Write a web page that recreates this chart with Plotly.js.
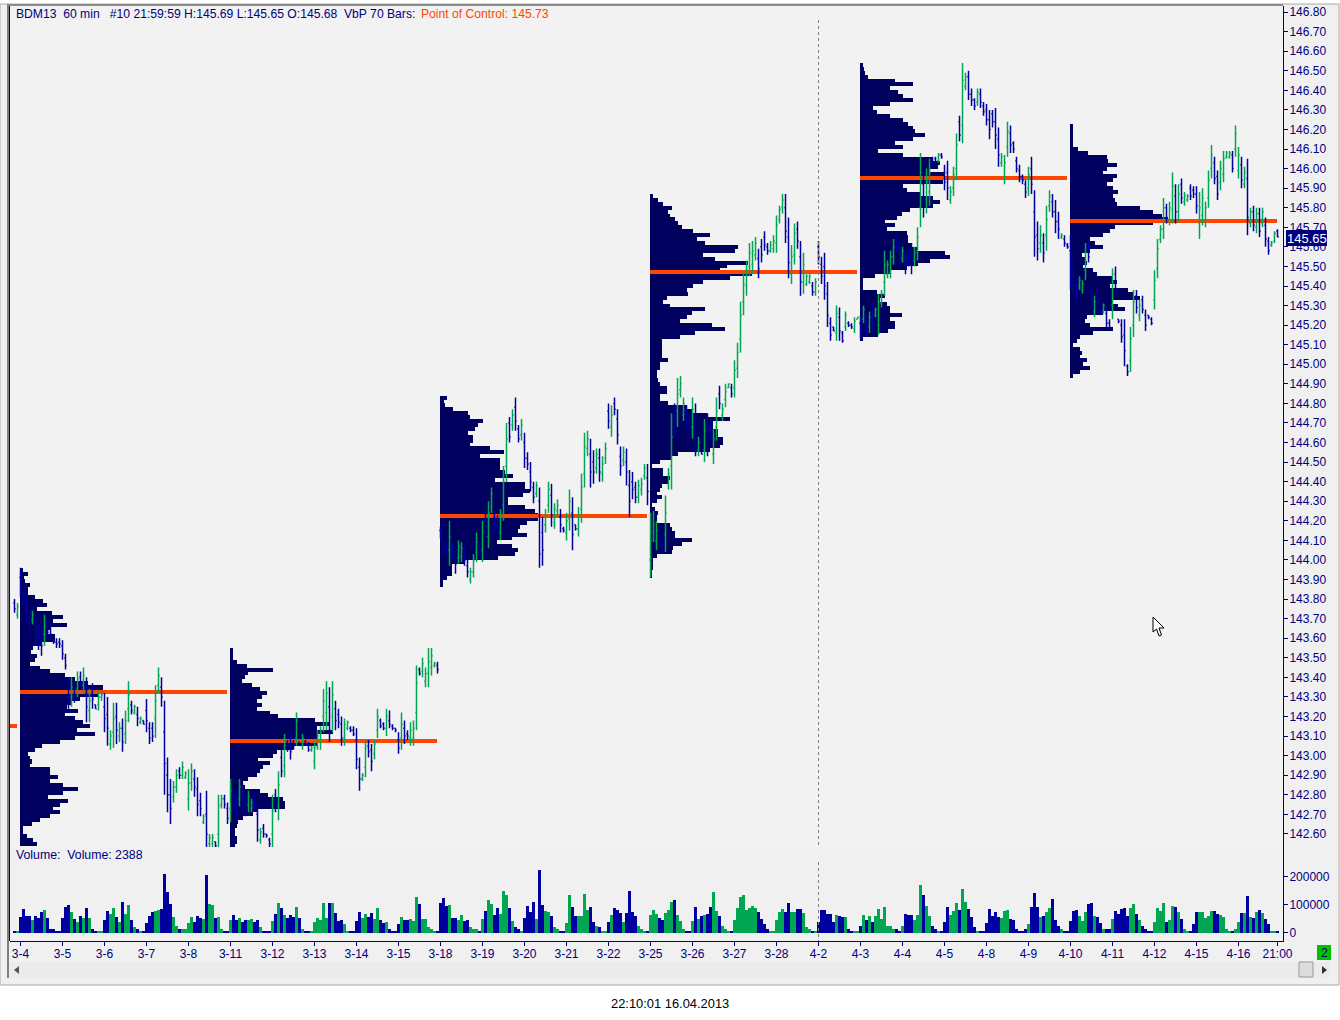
<!DOCTYPE html>
<html>
<head>
<meta charset="utf-8">
<script src="https://cdn.plot.ly/plotly-3.0.1.min.js"></script>
<style>html,body{margin:0;padding:0;background:#fff}</style>
</head>
<body>
<div id="plot" style="width:1340px;height:1020px"></div>
<script>
// BDM13 60 min bars, first bar is two bars before the 3-4 tick (index -2)
var firstIndex = -2;
var opens = [143.78,143.72,
143.91,143.83,143.78,143.70,143.69,143.66,143.63,143.60,143.62,143.67,143.65,143.59,143.58,143.58,
143.56,143.50,143.36,143.30,143.32,143.34,143.40,143.36,143.32,143.23,143.32,143.26,143.26,143.30,
143.25,143.21,143.06,143.12,143.20,143.10,143.14,143.11,143.24,143.26,143.22,143.21,143.17,143.18,
143.23,143.14,143.14,143.19,143.36,143.35,143.12,142.90,142.80,142.79,142.84,142.92,142.90,142.89,
142.78,142.86,142.88,142.83,142.77,142.66,142.70,142.55,142.55,142.56,142.60,142.75,142.78,142.73,
142.73,142.80,142.78,142.78,142.82,142.75,142.75,142.73,142.78,142.70,142.57,142.63,142.60,142.57,
142.60,142.80,142.74,142.99,142.95,143.07,143.09,143.07,143.09,143.07,143.05,143.07,143.06,143.03,
142.97,143.05,143.07,143.20,143.22,143.25,143.20,143.24,143.21,143.16,143.09,143.14,143.14,143.13,
143.08,142.94,142.88,142.94,143.05,143.03,143.01,143.13,143.18,143.16,143.14,143.18,143.15,143.14,
143.08,143.09,143.14,143.11,143.09,143.09,143.22,143.44,143.43,143.38,143.42,143.45,143.46,143.46,
144.15,144.08,144.07,144.05,144.06,144.02,144.01,144.02,144.04,143.97,143.90,143.94,144.04,144.08,
144.05,144.20,144.12,144.27,144.22,144.20,144.14,144.28,144.48,144.70,144.69,144.78,144.67,144.64,
144.60,144.52,144.45,144.37,144.34,144.30,144.14,144.18,144.28,144.33,144.19,144.25,144.22,144.16,
144.14,144.21,144.24,144.18,144.16,144.26,144.44,144.57,144.54,144.50,144.47,144.52,144.44,144.52,
144.76,144.68,144.80,144.72,144.53,144.51,144.50,144.38,144.40,144.37,144.32,144.36,144.43,144.42,
144.00,144.14,144.10,144.13,144.08,144.13,144.39,144.48,144.75,144.76,144.87,144.74,144.75,144.71,
144.68,144.70,144.56,144.56,144.56,144.68,144.69,144.54,144.68,144.85,144.74,144.82,144.88,144.88,
144.88,144.98,145.13,145.32,145.40,145.50,145.51,145.56,145.54,145.60,145.65,145.60,145.58,145.59,
145.62,145.74,145.80,145.80,145.65,145.46,145.56,145.69,145.55,145.42,145.41,145.42,145.40,145.37,
145.60,145.51,145.50,145.36,145.21,145.19,145.16,145.24,145.16,145.19,145.21,145.20,145.18,145.23,
145.21,145.23,145.22,145.19,145.26,145.25,145.20,145.31,145.42,145.46,145.47,145.55,145.63,145.60,
145.54,145.55,145.56,145.57,145.53,145.58,145.80,145.92,145.84,145.88,146.05,146.05,146.04,146.07,
145.98,145.98,145.84,145.90,146.00,146.24,146.22,146.42,146.47,146.38,146.35,146.34,146.38,146.32,
146.30,146.25,146.28,146.24,146.15,146.03,145.96,146.11,146.18,146.13,146.04,145.99,145.96,145.92,
145.90,146.00,145.78,145.66,145.62,145.62,145.66,145.81,145.83,145.78,145.73,145.65,145.64,145.61,
145.58,145.50,145.41,145.40,145.38,145.48,145.61,145.37,145.27,145.35,145.28,145.27,145.26,145.21,
145.30,145.46,145.23,145.20,145.15,144.99,145.02,145.20,145.35,145.25,145.33,145.25,145.25,145.23,
145.33,145.49,145.64,145.69,145.80,145.74,145.79,145.86,145.78,145.92,145.83,145.84,145.90,145.89,
145.87,145.72,145.76,145.73,145.85,146.00,146.03,145.96,145.93,145.97,146.06,146.06,146.07,146.10,
145.99,146.02,145.92,145.95,145.72,145.78,145.70,145.77,145.72,145.71,145.63,145.61,145.63,145.68];
var highs = [143.80,143.78,
143.96,143.86,143.83,143.74,143.74,143.72,143.68,143.65,143.72,143.70,143.67,143.60,143.60,143.60,
143.59,143.52,143.40,143.40,143.34,143.43,143.43,143.45,143.40,143.34,143.37,143.26,143.33,143.33,
143.32,143.30,143.13,143.27,143.27,143.17,143.19,143.23,143.38,143.28,143.26,143.25,143.20,143.18,
143.29,143.17,143.17,143.36,143.45,143.40,143.28,142.99,142.88,142.87,142.93,142.94,142.97,142.92,
142.93,142.96,142.93,142.89,142.81,142.70,142.82,142.60,142.60,142.56,142.80,142.80,142.80,142.76,
142.88,142.84,142.82,142.88,142.86,142.77,142.82,142.78,142.81,142.76,142.63,142.65,142.60,142.58,
142.80,142.83,142.92,143.03,143.11,143.08,143.13,143.08,143.22,143.07,143.11,143.08,143.07,143.05,
143.07,143.13,143.15,143.34,143.38,143.35,143.38,143.28,143.24,143.20,143.19,143.18,143.15,143.15,
143.14,142.99,142.91,143.08,143.08,143.06,143.08,143.24,143.19,143.17,143.24,143.23,143.16,143.14,
143.12,143.22,143.18,143.13,143.17,143.18,143.46,143.45,143.50,143.45,143.55,143.55,143.48,143.48,
144.17,144.10,144.09,144.20,144.08,144.07,144.10,144.09,144.07,144.00,143.96,144.03,144.14,144.10,
144.20,144.25,144.30,144.37,144.25,144.23,144.26,144.48,144.70,144.73,144.77,144.83,144.69,144.72,
144.65,144.55,144.50,144.40,144.40,144.37,144.22,144.26,144.40,144.39,144.29,144.31,144.26,144.17,
144.24,144.36,144.32,144.18,144.27,144.44,144.65,144.66,144.62,144.56,144.57,144.57,144.53,144.60,
144.80,144.79,144.83,144.77,144.58,144.58,144.57,144.46,144.45,144.40,144.41,144.42,144.49,144.49,
144.24,144.25,144.20,144.16,144.11,144.33,144.47,144.75,144.80,144.93,144.94,144.83,144.79,144.75,
144.83,144.80,144.63,144.56,144.72,144.75,144.72,144.67,144.83,144.89,144.80,144.90,144.90,144.90,
145.02,145.11,145.32,145.48,145.53,145.62,145.63,145.65,145.59,145.64,145.68,145.62,145.63,145.66,
145.76,145.81,145.87,145.87,145.75,145.61,145.72,145.73,145.63,145.57,145.46,145.46,145.42,145.44,
145.63,145.55,145.57,145.42,145.24,145.19,145.30,145.29,145.17,145.27,145.22,145.21,145.24,145.24,
145.25,145.30,145.26,145.27,145.30,145.29,145.36,145.38,145.58,145.53,145.58,145.64,145.66,145.63,
145.60,145.59,145.58,145.62,145.60,145.70,146.08,145.99,146.00,146.05,146.06,146.06,146.08,146.08,
146.02,146.04,145.91,146.01,146.18,146.27,146.54,146.49,146.50,146.41,146.36,146.41,146.41,146.34,
146.33,146.30,146.30,146.31,146.21,146.08,146.07,146.24,146.22,146.14,146.06,146.02,145.97,145.94,
146.01,146.06,145.89,145.73,145.71,145.67,145.81,145.89,145.87,145.84,145.78,145.67,145.66,145.62,
145.66,145.55,145.45,145.45,145.43,145.62,145.64,145.40,145.35,145.38,145.29,145.31,145.28,145.23,
145.49,145.50,145.23,145.23,145.23,145.00,145.19,145.38,145.38,145.33,145.35,145.28,145.25,145.24,
145.48,145.64,145.71,145.85,145.82,145.83,145.98,145.92,145.92,145.95,145.88,145.87,145.92,145.91,
145.91,145.88,145.90,145.83,145.99,146.12,146.06,145.99,146.04,146.09,146.09,146.09,146.09,146.22,
146.11,146.06,146.01,146.05,145.80,145.81,145.80,145.80,145.80,145.75,145.65,145.63,145.68,145.69];
var lows = [143.73,143.70,
143.81,143.77,143.68,143.61,143.67,143.56,143.54,143.51,143.56,143.60,143.60,143.57,143.55,143.55,
143.49,143.44,143.24,143.25,143.27,143.30,143.34,143.32,143.17,143.17,143.24,143.24,143.23,143.28,
143.12,143.05,143.03,143.04,143.06,143.07,143.02,143.06,143.17,143.21,143.21,143.15,143.16,143.16,
143.12,143.06,143.07,143.09,143.32,143.25,142.80,142.71,142.65,142.76,142.81,142.88,142.88,142.88,
142.72,142.82,142.79,142.69,142.69,142.65,142.53,142.53,142.53,142.53,142.53,142.73,142.73,142.65,
142.66,142.71,142.67,142.74,142.72,142.69,142.71,142.71,142.72,142.56,142.55,142.58,142.58,142.53,
142.53,142.71,142.67,142.89,142.89,143.02,142.98,143.03,143.05,143.05,143.03,143.05,143.02,143.02,
142.93,143.03,143.03,143.12,143.13,143.07,143.12,143.13,143.14,143.05,143.05,143.13,143.12,143.10,
142.93,142.82,142.87,142.89,142.99,142.92,142.98,143.09,143.14,143.13,143.10,143.14,143.13,143.12,
143.01,143.03,143.06,143.08,143.05,143.05,143.13,143.41,143.40,143.35,143.35,143.41,143.45,143.42,
144.11,144.03,144.02,143.97,144.01,143.93,143.98,143.99,143.97,143.91,143.88,143.91,143.99,144.02,
143.99,144.11,144.06,144.24,144.14,144.13,144.10,144.20,144.40,144.60,144.66,144.66,144.60,144.61,
144.47,144.46,144.35,144.29,144.32,143.96,143.97,144.14,144.24,144.17,144.16,144.22,144.14,144.14,
144.10,144.15,144.05,144.15,144.12,144.19,144.37,144.53,144.37,144.39,144.44,144.40,144.40,144.49,
144.67,144.63,144.74,144.59,144.43,144.48,144.38,144.22,144.31,144.29,144.29,144.33,144.41,144.28,
143.91,144.09,144.05,144.07,144.03,144.04,144.36,144.36,144.63,144.68,144.83,144.71,144.67,144.63,
144.62,144.53,144.53,144.54,144.50,144.53,144.62,144.49,144.61,144.77,144.71,144.78,144.88,144.83,
144.83,144.93,145.06,145.25,145.35,145.45,145.46,145.53,145.44,145.52,145.58,145.56,145.57,145.57,
145.57,145.72,145.77,145.62,145.44,145.41,145.51,145.59,145.35,145.36,145.40,145.41,145.35,145.35,
145.51,145.41,145.33,145.19,145.12,145.17,145.12,145.12,145.11,145.17,145.19,145.18,145.16,145.23,
145.13,145.21,145.14,145.16,145.17,145.24,145.15,145.29,145.35,145.44,145.44,145.51,145.57,145.52,
145.52,145.46,145.50,145.46,145.50,145.53,145.70,145.75,145.77,145.81,146.01,146.02,146.03,146.05,
145.89,145.84,145.82,145.86,145.94,146.14,146.13,146.40,146.35,146.32,146.30,146.32,146.31,146.27,
146.22,146.15,146.21,146.10,146.01,146.01,145.92,146.06,146.08,146.08,145.98,145.93,145.92,145.85,
145.86,145.87,145.55,145.53,145.57,145.52,145.58,145.78,145.75,145.67,145.64,145.64,145.60,145.59,
145.38,145.36,145.31,145.38,145.36,145.43,145.52,145.28,145.24,145.26,145.26,145.26,145.19,145.17,
145.23,145.38,145.21,145.11,144.99,144.94,144.96,145.14,145.26,145.22,145.26,145.17,145.23,145.20,
145.28,145.44,145.62,145.64,145.72,145.71,145.72,145.72,145.73,145.82,145.81,145.83,145.84,145.85,
145.77,145.64,145.71,145.70,145.80,145.95,145.92,145.84,145.89,145.93,146.05,146.05,145.98,146.06,
145.95,145.90,145.90,145.66,145.70,145.68,145.67,145.65,145.70,145.60,145.56,145.60,145.62,145.65];
var closes = [143.75,143.76,
143.86,143.80,143.73,143.65,143.72,143.62,143.59,143.56,143.66,143.63,143.62,143.58,143.57,143.57,
143.52,143.46,143.28,143.35,143.29,143.39,143.37,143.41,143.25,143.28,143.29,143.24,143.30,143.31,
143.19,143.14,143.10,143.19,143.13,143.14,143.07,143.18,143.31,143.23,143.25,143.19,143.19,143.16,
143.18,143.09,143.10,143.28,143.41,143.30,142.96,142.80,142.73,142.84,142.90,142.90,142.94,142.91,
142.86,142.92,142.84,142.75,142.73,142.69,142.60,142.58,142.58,142.54,142.74,142.78,142.75,142.68,
142.82,142.75,142.71,142.84,142.76,142.71,142.79,142.76,142.75,142.62,142.61,142.60,142.59,142.55,
142.72,142.74,142.85,142.92,143.05,143.04,143.02,143.05,143.18,143.06,143.09,143.06,143.03,143.04,
143.04,143.10,143.12,143.28,143.32,143.13,143.31,143.18,143.17,143.09,143.16,143.17,143.13,143.11,
142.98,142.88,142.90,143.04,143.02,142.97,143.06,143.20,143.15,143.14,143.20,143.16,143.14,143.13,
143.04,143.16,143.10,143.10,143.13,143.14,143.37,143.42,143.47,143.42,143.48,143.51,143.47,143.44,
144.13,144.05,144.04,144.12,144.03,143.98,144.07,144.06,144.00,143.94,143.94,144.00,144.09,144.04,
144.14,144.16,144.24,144.34,144.17,144.16,144.22,144.40,144.62,144.63,144.74,144.71,144.62,144.69,
144.52,144.49,144.40,144.32,144.38,144.03,144.05,144.22,144.36,144.23,144.26,144.28,144.18,144.15,
144.20,144.30,144.13,144.16,144.23,144.37,144.58,144.62,144.45,144.45,144.54,144.45,144.49,144.57,
144.71,144.74,144.77,144.64,144.48,144.55,144.45,144.30,144.36,144.32,144.38,144.39,144.47,144.35,
144.10,144.18,144.15,144.10,144.06,144.24,144.44,144.63,144.68,144.85,144.90,144.80,144.71,144.67,
144.77,144.62,144.60,144.54,144.66,144.60,144.65,144.62,144.76,144.80,144.77,144.86,144.90,144.85,
144.97,145.06,145.25,145.41,145.48,145.57,145.58,145.62,145.49,145.56,145.61,145.58,145.61,145.63,
145.71,145.79,145.84,145.68,145.52,145.55,145.67,145.63,145.42,145.51,145.45,145.45,145.37,145.42,
145.55,145.45,145.40,145.25,145.15,145.17,145.26,145.17,145.12,145.25,145.20,145.19,145.22,145.24,
145.17,145.28,145.18,145.24,145.21,145.28,145.32,145.36,145.51,145.51,145.55,145.60,145.60,145.55,
145.58,145.50,145.52,145.51,145.57,145.65,145.98,145.82,145.93,145.98,146.03,146.03,146.07,146.06,
145.93,145.90,145.88,145.97,146.12,146.17,146.45,146.47,146.38,146.35,146.32,146.39,146.34,146.29,
146.25,146.20,146.24,146.17,146.07,146.06,146.03,146.19,146.12,146.10,146.00,145.96,145.94,145.88,
145.97,145.92,145.65,145.59,145.66,145.57,145.74,145.86,145.78,145.73,145.69,145.66,145.62,145.60,
145.46,145.42,145.35,145.43,145.41,145.57,145.55,145.31,145.32,145.29,145.27,145.30,145.21,145.19,
145.42,145.42,145.22,145.14,145.07,144.96,145.13,145.32,145.29,145.30,145.28,145.20,145.24,145.21,
145.43,145.59,145.69,145.80,145.75,145.80,145.91,145.78,145.87,145.85,145.86,145.86,145.86,145.87,
145.81,145.80,145.85,145.80,145.94,146.07,145.95,145.87,146.00,146.05,146.08,146.08,146.00,146.18,
146.07,145.94,145.98,145.75,145.78,145.71,145.77,145.68,145.78,145.64,145.58,145.62,145.67,145.65];
// volume in thousands
var volumeK = [7,7,
54,83,58,58,43,58,51,72,80,51,14,11,7,7,
51,90,98,72,47,36,58,51,87,51,14,7,7,7,
43,76,65,87,54,36,108,65,98,43,18,11,7,7,
33,58,72,76,80,83,210,145,101,54,22,11,11,11,
33,54,36,58,51,47,206,101,98,51,54,11,7,7,
43,61,43,51,36,43,43,47,36,43,18,7,7,7,
40,65,105,87,61,51,61,54,90,51,14,7,7,7,
36,51,43,105,51,105,105,69,40,43,29,7,7,7,
40,72,51,65,54,69,47,87,43,33,36,11,7,7,
29,54,43,43,47,40,127,101,47,47,18,11,7,7,
105,123,94,98,51,51,43,61,40,43,18,11,11,7,
47,76,116,101,61,87,65,148,134,87,40,18,14,7,
51,94,72,108,47,224,98,76,72,58,18,14,7,7,
33,134,90,58,58,58,137,80,90,36,25,18,7,7,
36,61,87,80,69,36,69,148,72,58,25,11,7,7,
61,80,65,51,43,69,80,108,116,61,40,11,7,7,
40,90,47,58,61,65,90,145,76,58,22,14,7,7,
43,87,127,134,80,87,94,87,72,47,29,11,7,7,
43,72,83,72,105,72,72,83,83,69,18,11,7,7,
36,80,80,65,65,36,61,58,54,54,14,7,7,7,
22,61,43,58,36,58,83,47,90,25,25,11,11,7,
22,65,61,61,43,61,170,134,94,58,25,11,7,7,
36,90,61,76,105,80,155,108,83,54,18,7,7,7,
33,83,58,72,54,51,76,80,47,43,14,7,7,11,
29,90,141,90,54,58,72,87,119,43,22,11,7,7,
40,76,80,58,40,72,101,105,58,54,33,11,11,11,
47,76,65,83,87,58,87,101,65,43,25,14,7,7,
36,87,76,105,36,43,94,90,72,47,11,7,7,29,
72,72,72,51,58,76,76,65,61,54,14,7,7,14,
36,69,69,130,54,51,72,80,69,47,29,7,7,7];

// volume by price, one list per 70 bar block, top row first, rows 0.02 apart
var profileTop = [143.95,143.54,144.83,145.86,146.53,146.22];
var profileStart = [0,70,140,210,280,350];
var pocPrice = [143.325,143.075,144.225,145.47,145.95,145.73];
var profile1 = [3,8,4,5,10,8,8,15,23,27,17,32,43,33,47,30,28,35,35,22,13,11,17,15,10,20,30,45,55,68,83,83,78,60,52,47,58,45,55,63,70,57,75,55,40,22,15,8,10,12,10,30,30,38,30,43,58,43,28,48,40,33,40,30,20,12,3,3,7,13,17];
var profile2 = [3,3,3,7,17,43,18,15,12,22,30,37,32,27,32,27,40,48,85,100,87,103,87,87,87,63,47,43,28,40,33,30,27,18,13,15,30,38,53,55,55,27,23,13,8,7,5,5,7,7,5];
var profile3 = [7,4,5,13,28,30,43,38,35,28,33,33,30,50,64,40,60,60,60,65,73,55,85,85,90,83,68,68,85,95,98,98,87,80,78,87,72,57,72,78,75,58,25,12,12,12,7,3,3];
var profile4 = [3,8,13,22,18,20,25,28,32,43,60,47,55,88,85,53,65,98,77,70,102,80,53,43,37,38,17,13,20,55,42,37,30,62,75,45,30,12,12,12,12,12,18,10,10,7,7,8,10,17,17,10,10,18,37,43,57,80,63,63,68,68,73,73,70,60,28,22,10,2,13,13,20,18,12,10,7,12,7,2,5,8,7,7,20,22,25,25,42,32,23,22,7,3,3,3,2,2];
var profile5 = [3,4,5,8,35,53,30,38,43,53,30,13,17,30,43,48,53,55,65,53,35,43,18,43,73,80,78,70,85,100,83,43,47,60,73,80,73,50,42,37,25,35,27,47,48,48,52,57,85,90,70,58,47,30,15,3,3,3,17,25,20,27,30,30,42,30,35,35,28,18,3];
var profile6 = [3,3,3,3,3,3,8,18,37,38,47,37,33,47,43,37,43,48,43,45,47,70,83,92,98,83,45,40,33,20,25,33,20,12,15,17,13,23,27,43,47,40,58,63,70,43,48,55,33,17,15,20,43,23,10,7,3,10,12,10,17,13,20,10,3];

var tickIndex = [0,14,28,42,56,70,84,98,112,126,140,154,168,182,196,210,224,238,252,266,280,294,308,322,336,350,364,378,392,406,419];
var tickLabels = ['3-4','3-5','3-6','3-7','3-8','3-11','3-12','3-13','3-14','3-15','3-18','3-19','3-20','3-21','3-22','3-25','3-26','3-27','3-28','4-2','4-3','4-4','4-5','4-8','4-9','4-10','4-11','4-12','4-15','4-16','21:00'];

var W = 1340, H = 1020;
var UP = '#00A651', DOWN = '#0000A0', PROFILE = '#00005E', POC = '#FF4500', AXIS = '#00007F';
var FONT = 'Liberation Sans';
function px(x) { return x / W; }
function py(y) { return 1 - y / H; }

var barIndex = closes.map((_, i) => i + firstIndex);
var profiles = [profile1, profile2, profile3, profile4, profile5, profile6];
var data = [];

profiles.forEach((rows, p) => {
    data.push({
        type: 'bar', orientation: 'h', xaxis: 'x', yaxis: 'y',
        y: rows.map((_, k) => profileTop[p] - k * 0.02),
        x: rows.map(w => w / 3),
        base: profileStart[p] - 0.17,
        width: 0.0205,
        marker: {color: PROFILE, line: {width: 0}},
        hoverinfo: 'skip'
    });
});

// point of control lines, drawn in the bar layer so the price bars stay on top
data.push({
    type: 'bar', orientation: 'h', xaxis: 'x', yaxis: 'y',
    y: pocPrice.concat([143.15]),
    x: pocPrice.map(() => 69).concat([2.3]),
    base: profileStart.map(s => s - 0.17).concat([-3.5]),
    width: 0.02,
    marker: {color: POC, line: {width: 0}},
    hoverinfo: 'skip'
});

data.push({
    type: 'ohlc', xaxis: 'x', yaxis: 'y',
    x: barIndex, open: opens, high: highs, low: lows, close: closes,
    increasing: {line: {color: UP, width: 1.5}},
    decreasing: {line: {color: DOWN, width: 1.5}},
    tickwidth: 0.4,
    hoverinfo: 'skip'
});

data.push({
    type: 'bar', xaxis: 'x', yaxis: 'y2',
    x: barIndex,
    y: volumeK.map(v => v * 1000),
    width: 1,
    marker: {color: closes.map((c, i) => c >= opens[i] ? UP : DOWN), line: {width: 0}},
    hoverinfo: 'skip'
});

function rect(x0, y0, x1, y1, fill, line, layer) {
    return {type: 'rect', xref: 'paper', yref: 'paper', layer: layer || 'below',
        x0: px(x0), x1: px(x1), y0: py(y0), y1: py(y1),
        fillcolor: fill, line: line ? {color: line, width: 1} : {width: 0}};
}
function poly(points, fill, line) {
    var d = points.map((p, i) => (i ? 'L' : 'M') + px(p[0]) + ',' + py(p[1])).join(' ') + ' Z';
    return {type: 'path', xref: 'paper', yref: 'paper', path: d,
        fillcolor: fill, line: line ? {color: line, width: 1} : {width: 0}};
}

var shapes = [
    rect(0, 4, 1339, 985, '#F0F0F0', '#A8A8A8'),
    rect(10, 6, 1283, 847, '#F2F2F2'),
    rect(7, 4, 9, 978, '#808080'),
    rect(8, 4, 1283, 6, '#8A8A8A'),
    rect(9, 6, 10, 941, AXIS),
    rect(10, 962, 1330, 978, '#EBEBEB'),
    {type: 'line', xref: 'x', yref: 'paper', x0: 266, x1: 266, y0: py(20), y1: py(847),
        line: {color: '#808080', width: 1, dash: 'dot'}},
    {type: 'line', xref: 'x', yref: 'paper', x0: 266, x1: 266, y0: py(862), y1: py(941),
        line: {color: '#808080', width: 1, dash: 'dot'}},
    rect(1286, 230, 1327, 246, AXIS, null, 'above'),
    rect(1317, 945, 1331, 960, '#00C000'),
    poly([[19, 966], [14, 970], [19, 974]], '#555555'),
    poly([[1322, 966], [1327, 970], [1322, 974]], '#333333'),
    rect(1299, 962, 1313, 977, '#DCDCDC', '#999999', 'above'),
    poly([[1153, 617], [1153, 632], [1156.5, 629], [1159, 636], [1161.5, 635], [1159, 628], [1164, 628]], '#FFFFFF', '#000000')
];

function label(x, y, text, color, size, anchor) {
    return {xref: 'paper', yref: 'paper', x: px(x), y: py(y), text: text, showarrow: false,
        xanchor: anchor || 'left', yanchor: 'middle', borderpad: 0,
        font: {family: FONT, size: size || 12, color: color}};
}

var annotations = [
    label(14.5, 14, 'BDM13\u00a0\u00a060 min\u00a0\u00a0\u00a0#10 21:59:59 H:145.69 L:145.65 O:145.68\u00a0\u00a0VbP 70 Bars:', AXIS, 12.15),
    label(419.5, 14, 'Point of Control: 145.73', POC, 12.15),
    label(14.5, 855, 'Volume:\u00a0\u00a0Volume: 2388', AXIS, 12.3),
    label(1306.5, 238, '145.65', '#FFFFFF', 13, 'center'),
    label(1324, 953, '2', AXIS, 12, 'center'),
    label(670, 1003, '22:10:01 16.04.2013', '#000000', 12.9, 'center')
];

var layout = {
    width: W, height: H,
    margin: {l: 0, r: 0, t: 0, b: 0},
    paper_bgcolor: '#FFFFFF',
    plot_bgcolor: '#F2F2F2',
    showlegend: false,
    barmode: 'overlay',
    bargap: 0,
    font: {family: FONT, size: 12, color: AXIS},
    xaxis: {
        domain: [px(10), px(1283)], anchor: 'y2', range: [-3.5, 420.83],
        tickmode: 'array', tickvals: tickIndex, ticktext: tickLabels,
        ticks: 'outside', ticklen: 4, tickcolor: AXIS, showgrid: false, zeroline: false,
        showline: true, linecolor: AXIS, linewidth: 1, ticklabelstandoff: -2,
        tickfont: {family: FONT, size: 12, color: AXIS}, rangeslider: {visible: false}
    },
    yaxis: {
        domain: [py(847), py(6)], anchor: 'x', side: 'right', range: [142.533, 146.831],
        tick0: 142.6, dtick: 0.1, tickformat: '.2f',
        ticks: 'outside', ticklen: 4, tickcolor: AXIS, showgrid: false, zeroline: false,
        showline: true, linecolor: AXIS, linewidth: 1, ticklabelstandoff: -1,
        tickfont: {family: FONT, size: 12, color: AXIS}
    },
    yaxis2: {
        domain: [py(941), py(847)], anchor: 'x', side: 'right', range: [-30357, 305357],
        tickmode: 'array', tickvals: [0, 100000, 200000], ticktext: ['0', '100000', '200000'],
        ticks: 'outside', ticklen: 4, tickcolor: AXIS, showgrid: false, zeroline: false,
        showline: true, linecolor: AXIS, linewidth: 1, ticklabelstandoff: -1,
        tickfont: {family: FONT, size: 12, color: AXIS}
    },
    shapes: shapes,
    annotations: annotations
};

Plotly.newPlot('plot', data, layout, {displayModeBar: false, staticPlot: true});
</script>
</body>
</html>
